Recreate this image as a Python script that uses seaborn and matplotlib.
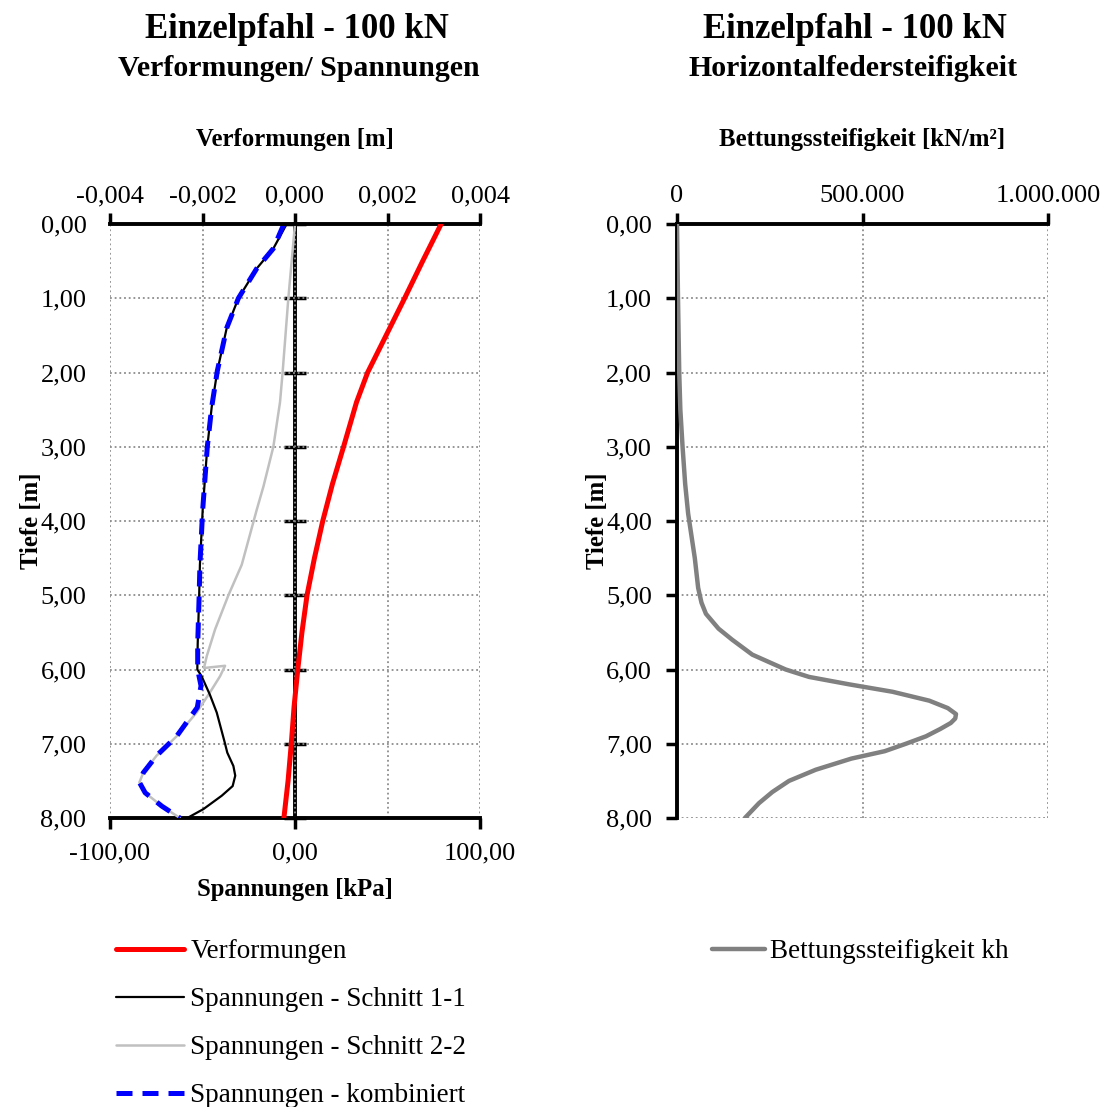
import numpy as np
import pandas as pd
import matplotlib
matplotlib.use("Agg")
import matplotlib.pyplot as plt
from matplotlib.ticker import FuncFormatter, FixedLocator
import seaborn as sns

# ---------------- data ----------------
# Verformungen [m] (top axis)
verf_depth = [0.0, 0.5, 1.0, 1.5, 2.0, 2.4, 3.0, 3.5, 4.0, 4.5, 5.0, 5.5, 6.0, 6.5, 7.0, 7.5, 8.0]
verf_val = [0.00316, 0.00276, 0.00237, 0.00197, 0.00157, 0.00133, 0.00105, 0.00081, 0.00060,
            0.00042, 0.00026, 0.00015, 0.00006, -0.00002, -0.00008, -0.00015, -0.00024]

# Spannungen Schnitt 1-1 [kPa]
s11_depth = [0.0, 0.33, 0.60, 1.0, 1.4, 1.98, 2.46, 3.0, 3.85, 4.59, 5.0, 5.66, 6.0,
             6.09, 6.34, 6.58, 7.0, 7.12, 7.30, 7.43, 7.57, 7.70, 7.88, 8.0]
s11_val = [-4.5, -11.7, -20.7, -30.6, -36.9, -42.0, -45.0, -47.4, -49.9, -51.4, -51.8, -52.6, -52.8,
           -50.5, -46.0, -42.3, -37.8, -36.6, -33.3, -32.3, -33.7, -39.6, -49.5, -58.2]

# Spannungen Schnitt 2-2 [kPa]
s22_depth = [0.0, 1.0, 2.0, 2.4, 3.0, 3.53, 3.85, 4.59, 5.0, 5.46, 5.82, 5.98, 5.95,
             6.09, 6.31, 6.58, 6.90, 7.16, 7.39, 7.52, 7.66, 7.84, 8.0]
s22_val = [0.0, -3.6, -6.7, -8.1, -11.7, -17.0, -20.7, -28.8, -36.0, -43.2, -47.7, -49.2, -37.8,
           -40.5, -46.0, -53.2, -64.0, -74.8, -82.0, -84.1, -81.0, -72.0, -62.2]

# Spannungen kombiniert [kPa]
komb_depth = [0.0, 0.33, 0.60, 1.0, 1.4, 1.98, 2.46, 3.0, 3.85, 4.59, 5.0, 5.66, 6.0,
              6.22, 6.51, 6.90, 7.16, 7.39, 7.52, 7.66, 7.84, 8.0]
komb_val = [-6.0, -11.7, -20.7, -30.6, -36.9, -42.0, -45.0, -47.4, -49.9, -51.4, -51.8, -52.6, -52.6,
            -50.8, -52.8, -64.0, -74.8, -82.0, -84.1, -81.0, -72.0, -62.2]

# Bettungssteifigkeit kh [kN/m²]
kh_depth = [0.0, 1.0, 2.0, 2.5, 3.0, 3.5, 3.9, 4.0, 4.5, 4.9, 5.1, 5.25, 5.35, 5.45, 5.6, 5.8,
            6.0, 6.1, 6.2, 6.3, 6.42, 6.52, 6.6, 6.66, 6.72, 6.8, 6.9, 7.0, 7.1, 7.2, 7.35,
            7.5, 7.65, 7.8, 8.0]
kh_val = [0, 2700, 6000, 9000, 15000, 22000, 30000, 33000, 48000, 57000, 66000, 78000, 95000,
          112000, 149000, 203000, 293000, 356000, 464000, 581000, 680000, 730000, 752000, 750000,
          738000, 710000, 671000, 617000, 560000, 470000, 374000, 302000, 257000, 221000, 183000]

depth_ticks = [0, 1, 2, 3, 4, 5, 6, 7, 8]

# ---------------- style ----------------
sns.set_theme(style="white")
plt.rcParams['font.family'] = ['Liberation Serif', 'DejaVu Serif']
for k in ['text.color', 'axes.labelcolor', 'xtick.color', 'ytick.color']:
    plt.rcParams[k] = 'black'

TICK_FS = 19.0
LAB_FS = 17.8
LEG_FS = 19.5
GRID = dict(color="#8c8c8c", ls=(0, (1, 1.6)), lw=1.3)

def de(fmt):
    def f(v, pos):
        s = fmt.format(v)
        s = s.replace(",", "X").replace(".", ",").replace("X", ".")
        if s.startswith("-") and float(v) == 0:
            s = s[1:]
        return s
    return FuncFormatter(f)

def thousands(v, pos):
    return "{:,.0f}".format(v).replace(",", ".")

fig = plt.figure(figsize=(11.06, 11.07), dpi=100)

# ---------------- left panel ----------------
ax = fig.add_axes([110 / 1106, 1 - 818 / 1107, 370 / 1106, 594 / 1107])
ax_top = ax.twiny()

df11 = pd.DataFrame({"x": s11_val, "y": s11_depth})
df22 = pd.DataFrame({"x": s22_val, "y": s22_depth})
dfk = pd.DataFrame({"x": komb_val, "y": komb_depth})
dfv = pd.DataFrame({"x": verf_val, "y": verf_depth})

sns.lineplot(data=df22, x="x", y="y", sort=False, estimator=None, ax=ax, color="#c0c0c0",
             lw=1.8, label="Spannungen - Schnitt 2-2", zorder=3)
sns.lineplot(data=df11, x="x", y="y", sort=False, estimator=None, ax=ax, color="black",
             lw=1.6, label="Spannungen - Schnitt 1-1", zorder=4)
sns.lineplot(data=dfk, x="x", y="y", sort=False, estimator=None, ax=ax, color="#0000ff",
             lw=3.6, label="Spannungen - kombiniert", zorder=5)
ax.lines[-1].set_dashes([3.2, 2.0])
sns.lineplot(data=dfv, x="x", y="y", sort=False, estimator=None, ax=ax_top, color="#ff0000",
             lw=3.6, label="Verformungen", zorder=5)

ax.set_xlim(-100, 100)
ax_top.set_xlim(-0.004, 0.004)
ax.set_ylim(8, 0)
ax_top.set_ylim(8, 0)

ax.set_xticks([-100, 0, 100])
ax.xaxis.set_minor_locator(FixedLocator([-50, 50]))
ax.xaxis.set_major_formatter(de("{:.2f}"))
ax.set_yticks(depth_ticks)
ax.yaxis.set_major_formatter(de("{:.2f}"))
ax.grid(True, which="both", axis="x", **GRID)
ax.grid(True, which="major", axis="y", **GRID)
ax.tick_params(axis="x", which="major", direction="out", length=8, width=2.5, color="black",
               labelsize=TICK_FS, pad=9.5)
ax.tick_params(axis="x", which="minor", length=0)
ax.tick_params(axis="y", length=0, labelsize=TICK_FS, pad=17)
for s in ["left", "right", "top"]:
    ax.spines[s].set_visible(False)
ax.spines["bottom"].set_linewidth(2.8)
ax.spines["bottom"].set_color("black")

ax_top.set_xticks([-0.004, -0.002, 0.0, 0.002, 0.004])
ax_top.xaxis.set_major_formatter(de("{:.3f}"))
ax_top.tick_params(axis="x", direction="out", length=8, width=2.5, color="black",
                   labelsize=TICK_FS, pad=4)
for s in ["left", "right", "bottom"]:
    ax_top.spines[s].set_visible(False)
ax_top.spines["top"].set_linewidth(2.8)
ax_top.spines["top"].set_color("black")

ax.set_xlabel("Spannungen [kPa]", fontsize=LAB_FS, fontweight="bold", labelpad=10)
ax_top.set_xlabel("Verformungen [m]", fontsize=LAB_FS, fontweight="bold", labelpad=28)
ax.set_ylabel("Tiefe [m]", fontsize=LAB_FS, fontweight="bold", labelpad=-2)

# zero axis crossing in the middle
zax = ax.secondary_yaxis(0.5)
zax.set_yticks(depth_ticks)
zax.tick_params(axis="y", direction="inout", length=16, width=2.5, color="black", labelleft=False,
                labelright=False)
for s in zax.spines.values():
    s.set_linewidth(2.8)
    s.set_color("black")

h1, l1 = ax.get_legend_handles_labels()
h2, l2 = ax_top.get_legend_handles_labels()
ax.get_legend().remove()
ax_top.get_legend().remove()
order = [h2[0], h1[1], h1[0], h1[2]]
labels = [l2[0], l1[1], l1[0], l1[2]]
fig.legend(order, labels, loc="upper left", bbox_to_anchor=(116 / 1106, 1 - 939 / 1107),
           frameon=False, fontsize=LEG_FS, handlelength=2.5, handletextpad=0.25,
           labelspacing=0.85, borderpad=0, borderaxespad=0)

fig.text(297 / 1106, 1 - 30 / 1107, "Einzelpfahl - 100 kN", ha="center", va="center",
         fontsize=25, fontweight="bold")
fig.text(299 / 1106, 1 - 69 / 1107, "Verformungen/ Spannungen", ha="center", va="center",
         fontsize=21.5, fontweight="bold")

# ---------------- right panel ----------------
ax2 = fig.add_axes([677 / 1106, 1 - 818 / 1107, 371 / 1106, 594 / 1107])
dfk2 = pd.DataFrame({"x": kh_val, "y": kh_depth})
sns.lineplot(data=dfk2, x="x", y="y", sort=False, estimator=None, ax=ax2, color="#808080",
             lw=3.2, label="Bettungssteifigkeit kh", zorder=4)
ax2.set_xlim(0, 1000000)
ax2.set_ylim(8, 0)
ax2.xaxis.tick_top()
ax2.xaxis.set_label_position("top")
ax2.set_xticks([0, 500000, 1000000])
ax2.xaxis.set_major_formatter(FuncFormatter(thousands))
ax2.set_yticks(depth_ticks)
ax2.yaxis.set_major_formatter(de("{:.2f}"))
ax2.grid(True, axis="both", **GRID)
ax2.tick_params(axis="x", direction="out", length=8, width=2.5, color="black",
                labelsize=TICK_FS, pad=4, top=True, bottom=False)
ax2.tick_params(axis="y", direction="out", length=8, width=2.5, color="black",
                labelsize=TICK_FS, pad=10, left=True)
for s in ["right", "bottom"]:
    ax2.spines[s].set_visible(False)
for s in ["left", "top"]:
    ax2.spines[s].set_linewidth(2.8)
    ax2.spines[s].set_color("black")
ax2.set_xlabel("Bettungssteifigkeit [kN/m²]", fontsize=LAB_FS, fontweight="bold", labelpad=28)
ax2.set_ylabel("Tiefe [m]", fontsize=LAB_FS, fontweight="bold", labelpad=-2)

hh, ll = ax2.get_legend_handles_labels()
ax2.get_legend().remove()
fig.legend(hh, ll, loc="upper left", bbox_to_anchor=(712 / 1106, 1 - 939 / 1107),
           frameon=False, fontsize=LEG_FS, handlelength=1.95, handletextpad=0.18,
           borderpad=0, borderaxespad=0)

fig.text(855 / 1106, 1 - 30 / 1107, "Einzelpfahl - 100 kN", ha="center", va="center",
         fontsize=25, fontweight="bold")
fig.text(853 / 1106, 1 - 69 / 1107, "Horizontalfedersteifigkeit", ha="center", va="center",
         fontsize=21.5, fontweight="bold")

fig.savefig("out.png", dpi=100)
